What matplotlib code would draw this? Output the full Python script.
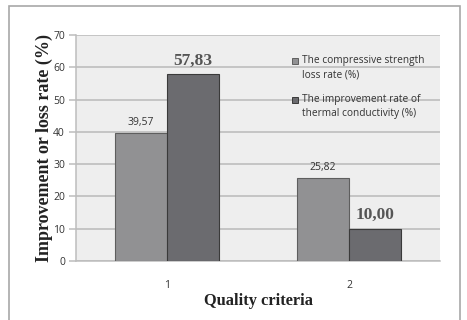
import matplotlib.pyplot as plt
from matplotlib.patches import Rectangle
import numpy as np

criteria = ["1", "2"]
strength_loss = [39.57, 25.82]
thermal_gain = [57.83, 10.00]
series_names = ["The compressive strength\nloss rate (%)",
                "The improvement rate of\nthermal conductivity (%)"]

light = "#919193"
dark = "#6b6b6f"
sans = ["Open Sans", "DejaVu Sans"]
serif = ["Liberation Serif", "DejaVu Serif"]

fig = plt.figure(figsize=(4.67, 3.2), dpi=100)
ax = fig.add_axes([76 / 467, 1 - 261 / 320, 364 / 467, 226 / 320])
ax.set_facecolor("#eeeeee")

# outer chart frame
fig.patches.append(Rectangle((9 / 467, -0.1), 451 / 467, 1.1 - 6 / 320,
                             transform=fig.transFigure, fill=False,
                             edgecolor="#a8a8a8", lw=1.2))

x = np.arange(len(criteria))
w = 0.286
colors = [light, dark]
edges = ["#5e5e5e", "#3a3a3a"]
b1 = ax.bar(x - w / 2, strength_loss, w, color=light, edgecolor=edges[0],
            lw=0.8, zorder=3)
b2 = ax.bar(x + w / 2, thermal_gain, w, color=dark, edgecolor=edges[1],
            lw=0.8, zorder=3)

for rect, v in zip(b1, strength_loss):
    ax.text(rect.get_x() + rect.get_width() / 2, v + 2.4,
            f"{v:.2f}".replace(".", ","), ha="center", va="baseline",
            fontsize=7.5, color="#333333", family=sans)
for rect, v in zip(b2, thermal_gain):
    ax.text(rect.get_x() + rect.get_width() / 2, v + 2.9,
            f"{v:.2f}".replace(".", ","), ha="center", va="baseline",
            fontsize=12.5, fontweight="bold", color="#555555", family=serif)

ax.set_xlim(-0.5, 1.5)
ax.set_ylim(0, 70)
ax.set_yticks(range(0, 71, 10))
ax.set_xticks(x)
ax.set_xticklabels(criteria)
ax.yaxis.grid(True, color="#bdbdbd", lw=1.2, zorder=0)
ax.set_axisbelow(True)
for s in ["top", "right"]:
    ax.spines[s].set_visible(False)
for s in ["bottom", "left"]:
    ax.spines[s].set_color("#bdbdbd")
    ax.spines[s].set_linewidth(1.1)
ax.tick_params(axis="both", labelsize=7.5, labelcolor="#333333")
ax.tick_params(axis="y", length=5, width=1.1, color="#bdbdbd", pad=3)
ax.tick_params(axis="x", length=0, pad=14)
for t in ax.get_xticklabels() + ax.get_yticklabels():
    t.set_family(sans)

ax.set_ylabel("Improvement or loss rate (%)", fontsize=13,
              fontweight="bold", family=serif, color="#222222", labelpad=0)
ax.set_xlabel("Quality criteria", fontsize=11.8, fontweight="bold",
              family=serif, color="#222222", labelpad=1)

# legend: square key next to the first line of each two-line entry
key_y = [0.885, 0.712]
for name, c, ec, ky in zip(series_names, colors, edges, key_y):
    ax.add_patch(Rectangle((0.593, ky - 0.013), 0.017, 0.027,
                           transform=ax.transAxes, facecolor=c,
                           edgecolor=ec, lw=0.7, zorder=4, clip_on=False))
    ax.text(0.62, ky + 0.028, name, transform=ax.transAxes, ha="left",
            va="top", fontsize=7.3, family=sans, color="#333333",
            linespacing=1.45, zorder=4)

fig.savefig("out.png", dpi=100)
